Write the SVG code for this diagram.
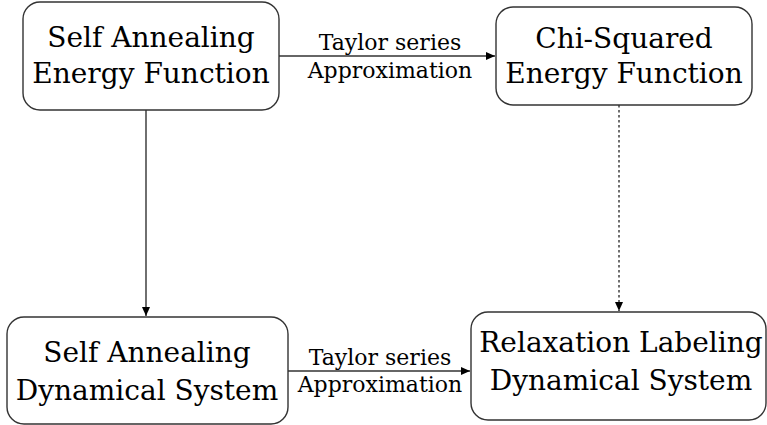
<svg xmlns="http://www.w3.org/2000/svg" width="767" height="425" viewBox="0 0 767 425">
<defs>
<marker id="ah" markerWidth="10" markerHeight="8" refX="9" refY="4" orient="auto" markerUnits="userSpaceOnUse">
<path d="M0,0 L9,4 L0,8 Z" fill="#000"/>
</marker>
<style>
.box{fill:#fff;stroke:#333;stroke-width:1.4}
.nt{font-family:"DejaVu Serif","Liberation Serif",serif;font-size:28px;fill:#000;text-anchor:middle}
.et{font-family:"DejaVu Serif","Liberation Serif",serif;font-size:22px;fill:#000;text-anchor:middle}
.ln{stroke:#333;stroke-width:1.4;fill:none}
.dot{stroke-dasharray:2.5,2.5}
</style>
</defs>
<rect width="767" height="425" fill="#fff"/>
<g id="connectors">
<line class="ln" x1="279" y1="56" x2="495" y2="56" marker-end="url(#ah)"/>
<text class="et" x="390" y="50">Taylor series</text>
<text class="et" x="390" y="78">Approximation</text>
<line class="ln" x1="146" y1="110" x2="146" y2="316" marker-end="url(#ah)"/>
<line class="ln dot" x1="619" y1="105" x2="619" y2="311" marker-end="url(#ah)"/>
<line class="ln" x1="288" y1="371" x2="470" y2="371" marker-end="url(#ah)"/>
<text class="et" x="380" y="365">Taylor series</text>
<text class="et" x="380" y="392">Approximation</text>
</g>
<g id="n1">
<rect class="box" x="23" y="2" width="256" height="108" rx="17"/>
<text class="nt" x="151" y="47">Self Annealing</text>
<text class="nt" x="151" y="83">Energy Function</text>
</g>
<g id="n2">
<rect class="box" x="496" y="7" width="256" height="98" rx="17"/>
<text class="nt" x="624" y="48">Chi-Squared</text>
<text class="nt" x="624" y="83">Energy Function</text>
</g>
<g id="n3">
<rect class="box" x="7" y="317" width="281" height="107" rx="17"/>
<text class="nt" x="147" y="362">Self Annealing</text>
<text class="nt" x="147" y="400">Dynamical System</text>
</g>
<g id="n4">
<rect class="box" x="471" y="312" width="295" height="108" rx="17"/>
<text class="nt" x="621" y="352">Relaxation Labeling</text>
<text class="nt" x="621" y="390">Dynamical System</text>
</g>
</svg>
